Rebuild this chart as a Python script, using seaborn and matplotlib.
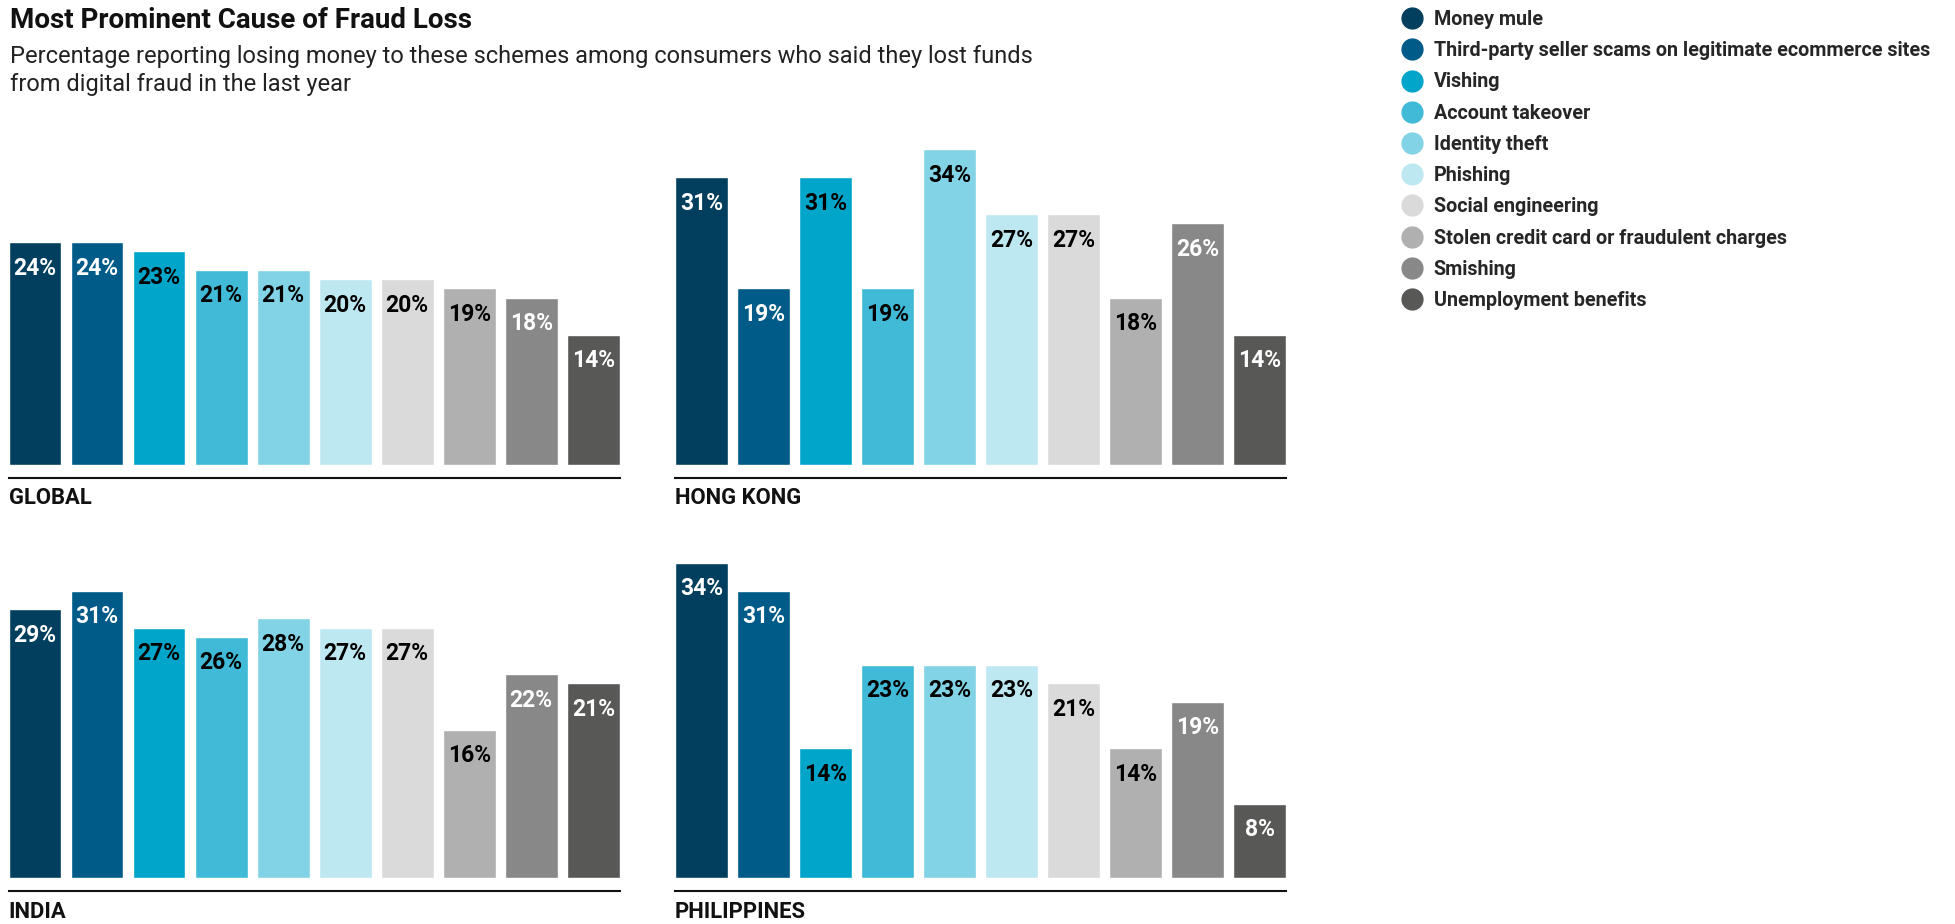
import matplotlib
matplotlib.use("Agg")
import matplotlib.pyplot as plt
from matplotlib.lines import Line2D
import seaborn as sns
import pandas as pd

# Fraud scheme categories and their colours
categories = [
    "Money mule",
    "Third-party seller scams on legitimate ecommerce sites",
    "Vishing",
    "Account takeover",
    "Identity theft",
    "Phishing",
    "Social engineering",
    "Stolen credit card or fraudulent charges",
    "Smishing",
    "Unemployment benefits",
]
colors = ["#023F5E", "#005B89", "#01A5C9", "#40BAD6", "#82D3E5",
          "#BEE8F1", "#DADADA", "#B0B0B0", "#888888", "#585857"]
label_colors = ["white", "white", "black", "black", "black",
                "black", "black", "black", "white", "white"]

# Share (%) of consumers who lost money to each scheme
global_vals = [24, 24, 23, 21, 21, 20, 20, 19, 18, 14]
hong_kong_vals = [31, 19, 31, 19, 34, 27, 27, 18, 26, 14]
india_vals = [29, 31, 27, 26, 28, 27, 27, 16, 22, 21]
philippines_vals = [34, 31, 14, 23, 23, 23, 21, 14, 19, 8]

regions = ["GLOBAL", "HONG KONG", "INDIA", "PHILIPPINES"]
region_values = [global_vals, hong_kong_vals, india_vals, philippines_vals]

sns.set_theme(style="white")
plt.rcParams["font.family"] = ["Roboto", "DejaVu Sans"]

W, H = 1955, 924
fig = plt.figure(figsize=(W / 100, H / 100), dpi=100)

# panel geometry in pixels: (left, baseline)
panel_px = [(8.7, 464.5), (675, 464.5), (8.7, 878), (675, 878)]
panel_w = 611
ymax = 36
px_per_pct = 9.27
panel_h = ymax * px_per_pct

for (left, base), name, vals in zip(panel_px, regions, region_values):
    ax = fig.add_axes([left / W, (H - base) / H, panel_w / W, panel_h / H])
    df = pd.DataFrame({"scheme": categories, "pct": vals})
    sns.barplot(data=df, x="scheme", y="pct", hue="scheme", order=categories,
                hue_order=categories, palette=colors, saturation=1,
                width=0.85, legend=False, ax=ax)
    ax.set_xlim(-0.425, len(categories) - 1 + 0.425)
    ax.set_ylim(0, ymax)
    for c, col in zip(ax.containers, label_colors):
        ax.bar_label(c, labels=[f"{v:.0f}%" for v in c.datavalues],
                     label_type="edge", padding=-27, color=col,
                     fontsize=16.5, fontweight="bold")
    for s in ["top", "right", "left"]:
        ax.spines[s].set_visible(False)
    ax.spines["bottom"].set_position(("outward", 9.4))
    ax.spines["bottom"].set_color("#111111")
    ax.spines["bottom"].set_linewidth(1.5)
    ax.set_xticks([])
    ax.set_yticks([])
    ax.set_xlabel("")
    ax.set_ylabel("")
    ax.annotate(name, xy=(0, 0), xycoords="axes fraction",
                xytext=(0, -34), textcoords="offset pixels",
                ha="left", va="center", fontsize=15.8, fontweight="bold",
                color="#111111")

fig.text(10 / W, 1 - 20 / H, "Most Prominent Cause of Fraud Loss",
         ha="left", va="center", fontsize=20, fontweight="bold", color="#111111")
fig.text(10 / W, 1 - 56 / H,
         "Percentage reporting losing money to these schemes among consumers who said they lost funds",
         ha="left", va="center", fontsize=17, color="#222222")
fig.text(10 / W, 1 - 85 / H, "from digital fraud in the last year",
         ha="left", va="center", fontsize=17, color="#222222")

handles = [Line2D([0], [0], marker="o", linestyle="none", markersize=15,
                  markerfacecolor=c, markeredgecolor=c) for c in colors]
fig.legend(handles, categories, loc="upper left",
           bbox_to_anchor=(1402 / W, 1 - 10 / H), frameon=False,
           borderaxespad=0, borderpad=0, handlelength=1.0, handletextpad=0.6,
           labelspacing=0.62, prop={"weight": "bold", "size": 14.2})

fig.savefig("out.png", dpi=100)
